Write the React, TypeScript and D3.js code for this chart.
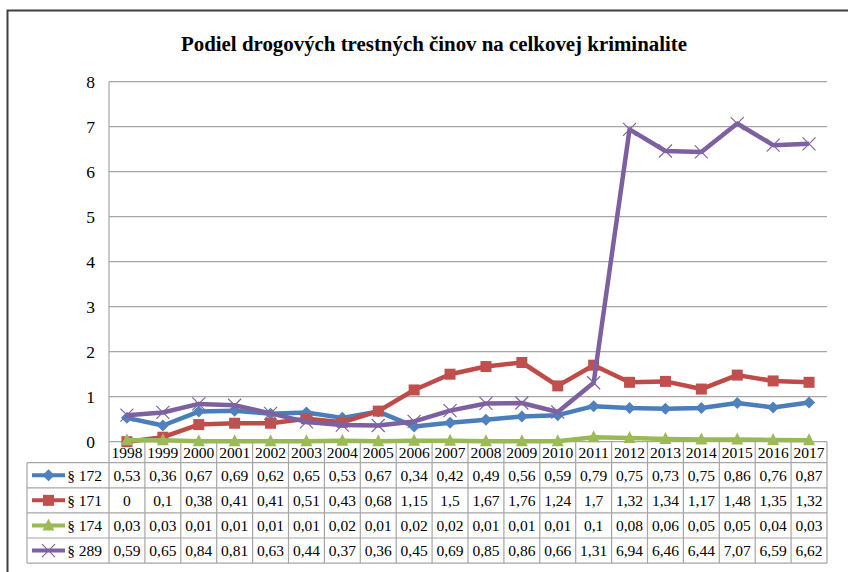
import * as d3 from "d3";

const years = ["1998", "1999", "2000", "2001", "2002", "2003", "2004", "2005", "2006", "2007",
  "2008", "2009", "2010", "2011", "2012", "2013", "2014", "2015", "2016", "2017"];

const s172 = [0.53, 0.36, 0.67, 0.69, 0.62, 0.65, 0.53, 0.67, 0.34, 0.42, 0.49, 0.56, 0.59, 0.79, 0.75, 0.73, 0.75, 0.86, 0.76, 0.87];
const s171 = [0, 0.1, 0.38, 0.41, 0.41, 0.51, 0.43, 0.68, 1.15, 1.5, 1.67, 1.76, 1.24, 1.7, 1.32, 1.34, 1.17, 1.48, 1.35, 1.32];
const s174 = [0.03, 0.03, 0.01, 0.01, 0.01, 0.01, 0.02, 0.01, 0.02, 0.02, 0.01, 0.01, 0.01, 0.1, 0.08, 0.06, 0.05, 0.05, 0.04, 0.03];
const s289 = [0.59, 0.65, 0.84, 0.81, 0.63, 0.44, 0.37, 0.36, 0.45, 0.69, 0.85, 0.86, 0.66, 1.31, 6.94, 6.46, 6.44, 7.07, 6.59, 6.62];

const yTicks = [0, 1, 2, 3, 4, 5, 6, 7, 8];

const series = [
  { name: "§ 172", values: s172, line: "#4A7EBB", fill: "#4F81BD", marker: "diamond" },
  { name: "§ 171", values: s171, line: "#BE4B48", fill: "#C0504D", marker: "square" },
  { name: "§ 174", values: s174, line: "#98B954", fill: "#9BBB59", marker: "triangle" },
  { name: "§ 289", values: s289, line: "#7D60A0", fill: "#8064A2", marker: "x" },
];

const W = 848, H = 572;
const PLOT = { left: 109, right: 827, top: 81.7, bottom: 441.7 };
const TABLE_LEFT = 27;
const ROW_TOP = 462.7;
const ROW_H = 25.1;
const GRID = "#A6A6A6";
const FONT = "'Liberation Serif', 'DejaVu Serif', serif";

function Marker({ kind, x, y, color }: { kind: string; x: number; y: number; color: string }) {
  if (kind === "diamond") {
    const s = 6;
    return <path d={`M${x},${y - s}L${x + s},${y}L${x},${y + s}L${x - s},${y}Z`} fill={color} />;
  }
  if (kind === "square") {
    const s = 5.5;
    return <rect x={x - s} y={y - s} width={2 * s} height={2 * s} fill={color} />;
  }
  if (kind === "triangle") {
    const s = 6;
    return <path d={`M${x},${y - s - 1}L${x + s},${y + s - 1}L${x - s},${y + s - 1}Z`} fill={color} />;
  }
  const s = 6.5;
  return (
    <path d={`M${x - s},${y - s}L${x + s},${y + s}M${x - s},${y + s}L${x + s},${y - s}`}
      stroke={color} strokeWidth={1.2} fill="none" />
  );
}

export default function App() {
  const x = d3.scaleBand().domain(years).range([PLOT.left, PLOT.right]);
  const y = d3.scaleLinear().domain([0, 8]).range([PLOT.bottom, PLOT.top]);
  const cx = (yr: string) => (x(yr) as number) + x.bandwidth() / 2;

  const line = d3.line<number>()
    .x((_, i) => cx(years[i]))
    .y((d) => y(d));

  const tableBottom = ROW_TOP + ROW_H * series.length;

  return (
    <svg width={W} height={H} style={{ position: "absolute", left: 0, top: 0, background: "#fff" }}>
      <g style={{ fontFamily: FONT }}>
      <rect x={0} y={0} width={W} height={H} fill="#fff" />
      {/* frame */}
      <rect x={7.5} y={10.5} width={W + 20} height={H + 20} fill="none" stroke="#3F3F3F" strokeWidth={2} />

      <text x={434} y={51} textAnchor="middle" fontSize={20.5} fontWeight="bold" fill="#000"
        textLength={506} lengthAdjust="spacingAndGlyphs">
        Podiel drogových trestných činov na celkovej kriminalite
      </text>

      {/* gridlines */}
      {yTicks.map((t) => (
        <line key={t} x1={PLOT.left} x2={PLOT.right} y1={y(t)} y2={y(t)} stroke={GRID} strokeWidth={1.2} />
      ))}
      <line x1={PLOT.left} x2={PLOT.left} y1={PLOT.top} y2={tableBottom} stroke={GRID} strokeWidth={1.2} />
      {yTicks.map((t) => (
        <text key={t} x={95} y={y(t) + 6} textAnchor="end" fontSize={17.5} fill="#000">{t}</text>
      ))}

      {/* table */}
      {years.map((yr) => (
        <line key={yr} x1={(x(yr) as number) + x.bandwidth()} x2={(x(yr) as number) + x.bandwidth()}
          y1={PLOT.bottom} y2={tableBottom} stroke={GRID} strokeWidth={1.2} />
      ))}
      {d3.range(series.length + 1).map((i) => (
        <line key={i} x1={TABLE_LEFT} x2={PLOT.right} y1={ROW_TOP + i * ROW_H} y2={ROW_TOP + i * ROW_H}
          stroke={GRID} strokeWidth={1.2} />
      ))}
      <line x1={TABLE_LEFT} x2={TABLE_LEFT} y1={ROW_TOP} y2={tableBottom} stroke={GRID} strokeWidth={1.2} />
      {years.map((yr) => (
        <text key={yr} x={cx(yr)} y={458} textAnchor="middle" fontSize={15.5} fill="#000">{yr}</text>
      ))}
      {series.map((s, i) => {
        const ry = ROW_TOP + i * ROW_H + ROW_H / 2;
        return (
          <g key={s.name}>
            <line x1={32} x2={65} y1={ry} y2={ry} stroke={s.line} strokeWidth={4} />
            <Marker kind={s.marker} x={48.5} y={ry} color={s.fill} />
            <text x={102} y={ry + 5.5} textAnchor="end" fontSize={15.5} fill="#000">{s.name}</text>
            {s.values.map((v, j) => (
              <text key={j} x={cx(years[j])} y={ry + 5.5} textAnchor="middle" fontSize={15.5} fill="#000">
                {String(v).replace(".", ",")}
              </text>
            ))}
          </g>
        );
      })}

      {/* series */}
      {series.map((s) => (
        <g key={s.name}>
          <path d={line(s.values) as string} fill="none" stroke={s.line} strokeWidth={4.5} strokeLinejoin="round" />
          {s.values.map((v, j) => (
            <Marker key={j} kind={s.marker} x={cx(years[j])} y={y(v)} color={s.fill} />
          ))}
        </g>
      ))}
      </g>
    </svg>
  );
}
